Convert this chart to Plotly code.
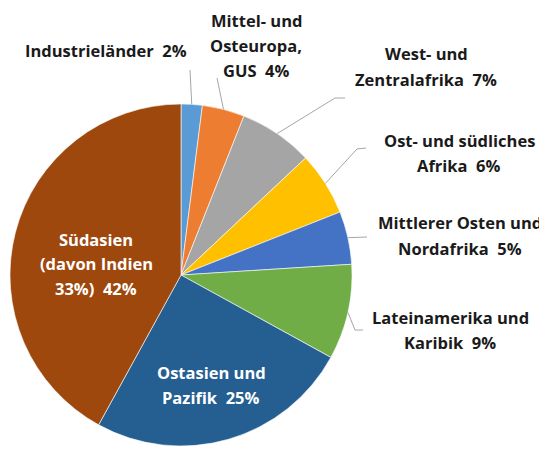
import math
import plotly.graph_objects as go

# ---- data ----
regions = ["Industrieländer", "Mittel- und Osteuropa, GUS", "West- und Zentralafrika",
           "Ost- und südliches Afrika", "Mittlerer Osten und Nordafrika",
           "Lateinamerika und Karibik", "Ostasien und Pazifik",
           "Südasien (davon Indien 33%)"]
shares = [2, 4, 7, 6, 5, 9, 25, 42]
colors = ["#5B9BD5", "#ED7D31", "#A5A5A5", "#FFC000", "#4472C4", "#70AD47", "#255E91", "#9E480E"]
label_lines = [
    ["Industrieländer\u00a0 2%"],
    ["Mittel- und", "Osteuropa,", "GUS\u00a0 4%"],
    ["West- und", "Zentralafrika\u00a0 7%"],
    ["Ost- und südliches", "Afrika\u00a0 6%"],
    ["Mittlerer Osten und", "Nordafrika\u00a0 5%"],
    ["Lateinamerika und", "Karibik\u00a0 9%"],
    ["Ostasien und", "Pazifik\u00a0 25%"],
    ["Südasien", "(davon Indien", "33%)\u00a0 42%"],
]

# page is 547x449, the plot div sits at an 8px body margin
OFF = 8
W, H = 547 - OFF, 449 - OFF
CX, CY, R = 181, 275, 171   # page pixel coordinates

# label layout (page pixel positions: center x, first-line y, line spacing)
label_pos = [(106, 50, 25), (256, 21, 24.5), (426, 53, 27), (459, 140, 25),
             (460, 223, 25), (450, 317, 25), (211, 372, 25), (96, 239, 24.5)]
inside = [False] * 6 + [True, True]
# leader line bend points after the slice edge point (page pixels)
leader_tail = [
    [(190, 70)],
    [(217, 78)],
    [(335, 98), (345, 98)],
    [(357, 149), (366, 148)],
    [(367, 237)],
    [(355, 330), (363, 330)],
    None, None,
]


def px(x):
    return (x - OFF) / W


def py(y):
    return 1 - (y - OFF) / H


fig = go.Figure(go.Pie(
    labels=regions, values=shares, sort=False, direction="clockwise", rotation=0,
    marker=dict(colors=colors, line=dict(color="white", width=0.6)),
    textinfo="none", hoverinfo="label+percent", showlegend=False,
    domain=dict(x=[px(CX - R), px(CX + R)], y=[py(CY + R), py(CY - R)]),
))

annotations = []
shapes = []
total = sum(shares)
cum = 0
for i, v in enumerate(shares):
    mid = (cum + v / 2) / total * 2 * math.pi
    cum += v
    x0, y0, dy = label_pos[i]
    for k, line in enumerate(label_lines[i]):
        annotations.append(dict(
            x=px(x0), y=py(y0 + k * dy), xref="paper", yref="paper",
            text=line, showarrow=False, xanchor="center", yanchor="middle",
            font=dict(family="Open Sans", size=16.5, color="white" if inside[i] else "#1a1a1a",
                      weight="bold"),
        ))
    if leader_tail[i]:
        sx = CX + R * math.sin(mid)
        sy = CY - R * math.cos(mid)
        pts = [(sx, sy)] + leader_tail[i]
        path = "M " + " L ".join(f"{px(a)},{py(b)}" for a, b in pts)
        shapes.append(dict(type="path", path=path, xref="paper", yref="paper",
                           line=dict(color="#A6A6A6", width=1)))

fig.update_layout(
    width=W, height=H, margin=dict(l=0, r=0, t=0, b=0),
    paper_bgcolor="white", plot_bgcolor="white",
    annotations=annotations, shapes=shapes,
)
fig.write_html("out.html")
